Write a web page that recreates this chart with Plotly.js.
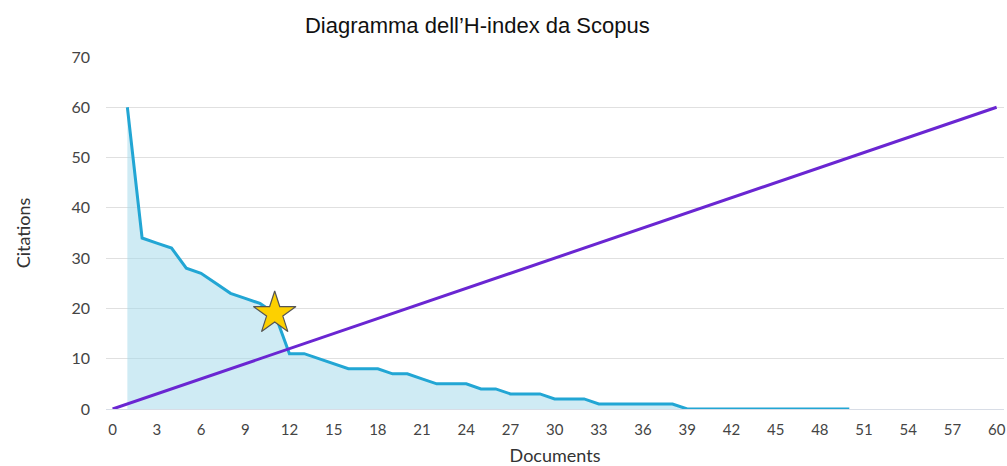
<!DOCTYPE html>
<html>
<head>
<meta charset="utf-8">
<script src="https://cdn.plot.ly/plotly-3.0.1.min.js"></script>
<style>html,body{margin:0;padding:0;background:#fff;}#chart{width:1007px;height:466px;}</style>
</head>
<body>
<div id="chart"></div>
<script>
// Documents (ranked) and their citations
const documents = [1,2,3,4,5,6,7,8,9,10,11,12,13,14,15,16,17,18,19,20,21,22,23,24,25,26,27,28,29,30,31,32,33,34,35,36,37,38,39,40,41,42,43,44,45,46,47,48,49,50];
const citations = [60,34,33,32,28,27,25,23,22,21,19,11,11,10,9,8,8,8,7,7,6,5,5,5,4,4,3,3,3,2,2,2,1,1,1,1,1,1,0,0,0,0,0,0,0,0,0,0,0,0];
// h-index diagonal (citations = documents)
const diagX = [0, 60];
const diagY = [0, 60];
// h-index marker
const hX = [11];
const hY = [19];
const xTicks = [0,3,6,9,12,15,18,21,24,27,30,33,36,39,42,45,48,51,54,57,60];
const yTicks = [0,10,20,30,40,50,60,70];

const traces = [
  {x: documents, y: citations, type: 'scatter', mode: 'lines', fill: 'tozeroy',
   fillcolor: 'rgba(160,215,234,0.5)', line: {color: '#22a6d4', width: 3}, hoverinfo: 'x+y'},
  {x: diagX, y: diagY, type: 'scatter', mode: 'lines', line: {color: '#6a26d2', width: 3}},
  {x: hX, y: hY, type: 'scatter', mode: 'markers',
   marker: {symbol: 'star', size: 32, color: '#fdd000', line: {color: '#555', width: 1.2}}}
];

const layout = {
  width: 1007, height: 466,
  margin: {l: 106, r: 3, t: 57, b: 57},
  paper_bgcolor: '#fff', plot_bgcolor: '#fff',
  showlegend: false,
  title: {text: 'Diagramma dell\u2019H-index da Scopus', x: 0.474, xanchor: 'center',
          yref: 'container', y: 0.945, yanchor: 'middle',
          font: {family: 'Liberation Sans, Arial, sans-serif', size: 22, color: '#111'}},
  xaxis: {range: [-0.45, 60.5], tickvals: xTicks, ticktext: xTicks.map(String),
          showgrid: false, zeroline: false, showline: true, linecolor: '#d8dde6', linewidth: 1,
          ticks: '', ticklen: 0, ticklabelstandoff: 7,
          tickfont: {family: 'Lato, Open Sans, sans-serif', size: 15, color: '#444'},
          title: {text: 'Documents', standoff: 13, font: {family: 'Lato, Open Sans, sans-serif', size: 18, color: '#333'}}},
  yaxis: {range: [0, 70], tickvals: yTicks, showgrid: true, gridcolor: '#e0e0e0', gridwidth: 1,
          zeroline: false, showline: false, ticks: '', ticklabelstandoff: 15,
          tickfont: {family: 'Lato, Open Sans, sans-serif', size: 16, color: '#444'},
          title: {text: 'Citations', standoff: 36, font: {family: 'Lato, Open Sans, sans-serif', size: 18, color: '#333'}}}
};

Plotly.newPlot('chart', traces, layout, {displayModeBar: false, staticPlot: true});
</script>
</body>
</html>
